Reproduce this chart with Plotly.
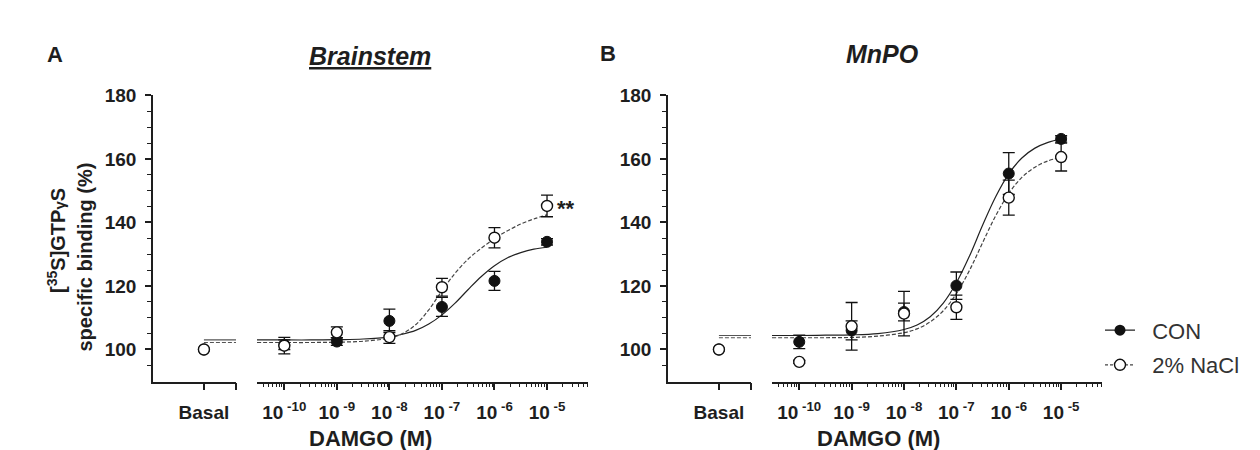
import plotly.graph_objects as go

W, H = 1260, 450
OFF_X, OFF_Y = 8, 8          # page body margin around the figure
FONT = "Arial, Liberation Sans, sans-serif"
INK = "#1e1e1e"

# ---------------- data ----------------
conc_log = [-10, -9, -8, -7, -6, -5]            # log10 [DAMGO] (M)
conc_ticktext = ["10<sup> -10</sup>", "10<sup> -9</sup>", "10<sup> -8</sup>",
                 "10<sup> -7</sup>", "10<sup> -6</sup>", "10<sup> -5</sup>"]
basal_label = "Basal"
basal_con = 100.0
basal_nacl = 100.0

# Panel A – Brainstem
a_con_mean = [101.5, 102.5, 109.0, 113.4, 121.6, 133.9]
a_con_sem = [1.5, 1.2, 3.7, 3.0, 3.0, 1.0]
a_nacl_mean = [101.2, 105.4, 103.9, 119.6, 135.2, 145.2]
a_nacl_sem = [2.6, 1.7, 2.0, 2.8, 3.2, 3.4]

# Panel B – MnPO
b_con_mean = [102.4, 106.0, 111.8, 120.1, 155.4, 166.3]
b_con_sem = [2.1, 3.0, 2.8, 4.3, 6.6, 1.0]
b_nacl_mean = [96.1, 107.3, 111.3, 113.3, 147.8, 160.6]
b_nacl_sem = [0.5, 7.5, 7.0, 3.8, 5.5, 4.4]

# fitted concentration-response curves
fit_log = [-10.52, -10, -9.5, -9, -8.5, -8, -7.75, -7.5, -7.25, -7,
           -6.75, -6.5, -6.25, -6, -5.75, -5.5, -5.25, -5]
a_con_fit = [103.0, 103.0, 103.0, 103.1, 103.3, 104.0, 104.8, 106.0, 108.0, 110.9,
             114.6, 118.9, 123.0, 126.4, 128.9, 130.5, 131.6, 132.2]
a_nacl_fit = [102.2, 102.2, 102.2, 102.3, 102.6, 103.6, 105.0, 107.8, 112.5, 118.5,
              124.0, 128.5, 131.9, 134.9, 137.4, 139.5, 141.1, 142.4]
b_con_fit = [104.4, 104.4, 104.5, 104.6, 105.0, 106.3, 107.7, 110.3, 114.6, 121.0,
             129.4, 139.1, 148.1, 155.3, 160.3, 163.4, 165.2, 166.3]
b_nacl_fit = [103.7, 103.7, 103.7, 103.8, 104.2, 105.3, 106.5, 108.7, 112.2, 117.6,
              124.9, 133.6, 142.1, 149.1, 154.2, 157.4, 159.4, 160.5]

y_major = [100, 120, 140, 160, 180]
y_minor = [95, 105, 110, 115, 125, 130, 135, 145, 150, 155, 165, 170, 175]
y_range = [89.85, 180.05]
log_range = [-10.52, -4.22]
basal_range = [-1.0, 0.63]

# ---------------- helpers ----------------
def px_x(p):
    return (p - OFF_X) / W

def px_y(p):
    return 1 - (p - OFF_Y) / H

conc = [10 ** v for v in conc_log]
fit_conc = [10 ** v for v in fit_log]
minor_conc = []
for e in range(-11, -4):
    for m in range(2, 10):
        v = m * 10 ** e
        if 10 ** log_range[0] * 0.999 <= v <= 10 ** log_range[1]:
            minor_conc.append(v)

tickfont = dict(family=FONT, size=19, color=INK, weight="bold")
xtickfont = dict(family=FONT, size=19, color=INK, weight="bold")
LINEW = 1.5

fig = go.Figure()

CON_MARK = dict(symbol="circle", size=11, color="#111111", line=dict(color="#111111", width=1))
NACL_MARK = dict(symbol="circle", size=11, color="white", line=dict(color="#111111", width=1.4))
ERR = dict(type="data", color="#111111", thickness=1.3, width=6)

panels = [
    dict(xb="x", xl="x2", y="y", con=a_con_mean, cons=a_con_sem, nacl=a_nacl_mean, nacls=a_nacl_sem,
         cfit=a_con_fit, nfit=a_nacl_fit),
    dict(xb="x3", xl="x4", y="y2", con=b_con_mean, cons=b_con_sem, nacl=b_nacl_mean, nacls=b_nacl_sem,
         cfit=b_con_fit, nfit=b_nacl_fit),
]

for p in panels:
    fig.add_trace(go.Scatter(x=fit_conc, y=p["cfit"], xaxis=p["xl"], yaxis=p["y"], mode="lines",
                             line=dict(color="#222222", width=1.2, shape="spline"), showlegend=False,
                             hoverinfo="skip"))
    fig.add_trace(go.Scatter(x=fit_conc, y=p["nfit"], xaxis=p["xl"], yaxis=p["y"], mode="lines",
                             line=dict(color="#444444", width=1.2, dash="4px,2px", shape="spline"),
                             showlegend=False, hoverinfo="skip"))
    fig.add_trace(go.Scatter(x=[0, basal_range[1]], y=[p["cfit"][0]] * 2, xaxis=p["xb"], yaxis=p["y"],
                             mode="lines", line=dict(color="#555555", width=1.2), showlegend=False))
    fig.add_trace(go.Scatter(x=[0, basal_range[1]], y=[p["nfit"][0]] * 2, xaxis=p["xb"], yaxis=p["y"],
                             mode="lines", line=dict(color="#555555", width=1.2, dash="4px,2px"),
                             showlegend=False))
    fig.add_trace(go.Scatter(x=conc, y=p["con"], xaxis=p["xl"], yaxis=p["y"], mode="markers",
                             marker=CON_MARK, error_y=dict(array=p["cons"], **ERR), showlegend=False))
    fig.add_trace(go.Scatter(x=conc, y=p["nacl"], xaxis=p["xl"], yaxis=p["y"], mode="markers",
                             marker=NACL_MARK, error_y=dict(array=p["nacls"], **ERR), showlegend=False))
    fig.add_trace(go.Scatter(x=[0], y=[basal_con], xaxis=p["xb"], yaxis=p["y"], mode="markers",
                             marker=CON_MARK, showlegend=False))
    fig.add_trace(go.Scatter(x=[0], y=[basal_nacl], xaxis=p["xb"], yaxis=p["y"], mode="markers",
                             marker=NACL_MARK, showlegend=False))

NB = "\u00a0\u00a0"
fig.add_trace(go.Scatter(x=[None], y=[None], xaxis="x4", yaxis="y2", mode="lines+markers", name=NB + "CON",
                         legendgroup="g1", line=dict(color="#222222", width=1.2),
                         marker=dict(symbol="circle", size=11, color="#111111")))
fig.add_trace(go.Scatter(x=[None], y=[None], xaxis="x4", yaxis="y2", mode="lines+markers",
                         name=NB + "2% NaCl", legendgroup="g2",
                         line=dict(color="#444444", width=1.2, dash="3px,2px"),
                         marker=dict(symbol="circle", size=11, color="white",
                                     line=dict(color="#111111", width=1.4))))

ydom = [px_y(380), px_y(87)]

def yax(anchor):
    return dict(range=y_range, domain=ydom, anchor=anchor, tickvals=y_major, ticks="outside",
                ticklen=6, tickwidth=LINEW, tickcolor=INK, showline=True, linecolor=INK,
                linewidth=LINEW, showgrid=False, zeroline=False, tickfont=tickfont,
                ticklabelstandoff=5,
                minor=dict(tickvals=y_minor, ticks="outside", ticklen=4, tickwidth=1.2,
                           tickcolor=INK, showgrid=False))

def basal_ax(dom, anchor):
    return dict(range=basal_range, domain=dom, anchor=anchor, tickvals=[0, basal_range[1]],
                ticktext=[basal_label, ""], ticks="outside", ticklen=7, tickwidth=LINEW, tickcolor=INK,
                showline=True, linecolor=INK, linewidth=LINEW, showgrid=False, zeroline=False,
                tickfont=xtickfont, ticklabelstandoff=6)

def log_ax(dom, anchor):
    return dict(type="log", range=log_range, domain=dom, anchor=anchor, tickvals=conc,
                ticktext=conc_ticktext, ticks="outside", ticklen=7, tickwidth=LINEW, tickcolor=INK,
                showline=True, linecolor=INK, linewidth=LINEW, showgrid=False, zeroline=False,
                tickfont=xtickfont, ticklabelstandoff=6,
                minor=dict(tickvals=minor_conc, ticks="outside", ticklen=4, tickwidth=1.1,
                           tickcolor=INK, showgrid=False))

fig.update_layout(
    width=W, height=H, margin=dict(l=0, r=0, t=0, b=0),
    paper_bgcolor="white", plot_bgcolor="white",
    xaxis=basal_ax([px_x(153), px_x(236)], "y"),
    xaxis2=log_ax([px_x(257), px_x(588)], "y"),
    yaxis=yax("x"),
    xaxis3=basal_ax([px_x(668), px_x(751)], "y2"),
    xaxis4=log_ax([px_x(772), px_x(1102)], "y2"),
    yaxis2=yax("x3"),
    legend=dict(x=px_x(1100), y=px_y(306), xanchor="left", yanchor="top",
                font=dict(family=FONT, size=22, color="#333333"), bgcolor="rgba(0,0,0,0)",
                tracegroupgap=3, itemwidth=30),
    showlegend=True,
)

ann = []
def add_text(text, x, y, size, angle=0, **kw):
    ann.append(dict(text=text, x=px_x(x), y=px_y(y), xref="paper", yref="paper", showarrow=False,
                    font=dict(family=FONT, size=size, color=INK), textangle=angle,
                    xanchor="center", yanchor="middle", **kw))

add_text("<b>A</b>", 55, 45, 22)
add_text("<b>B</b>", 608, 44, 22)
add_text("<u><b><i>Brainstem</i></b></u>", 370, 47, 25)
add_text("<b><i>MnPO</i></b>", 882, 45, 25)
add_text("<b>DAMGO (M)</b>", 370, 438, 22)
add_text("<b>DAMGO (M)</b>", 878, 438, 22)
add_text("<b>[<sup>35</sup>S]GTP<span style='font-size:15px'>γ</span>S</b>", 57, 236, 20, angle=-90)
add_text("<b>specific binding (%)</b>", 85, 253, 20, angle=-90)
ann.append(dict(text="<b>**</b>", x=conc_log[-1], y=a_nacl_mean[-1], xref="x2", yref="y",
                showarrow=False, xanchor="left", yanchor="middle", xshift=8, yshift=-3,
                font=dict(family=FONT, size=22, color=INK)))
fig.update_layout(annotations=ann)

fig.write_html("out.html")
